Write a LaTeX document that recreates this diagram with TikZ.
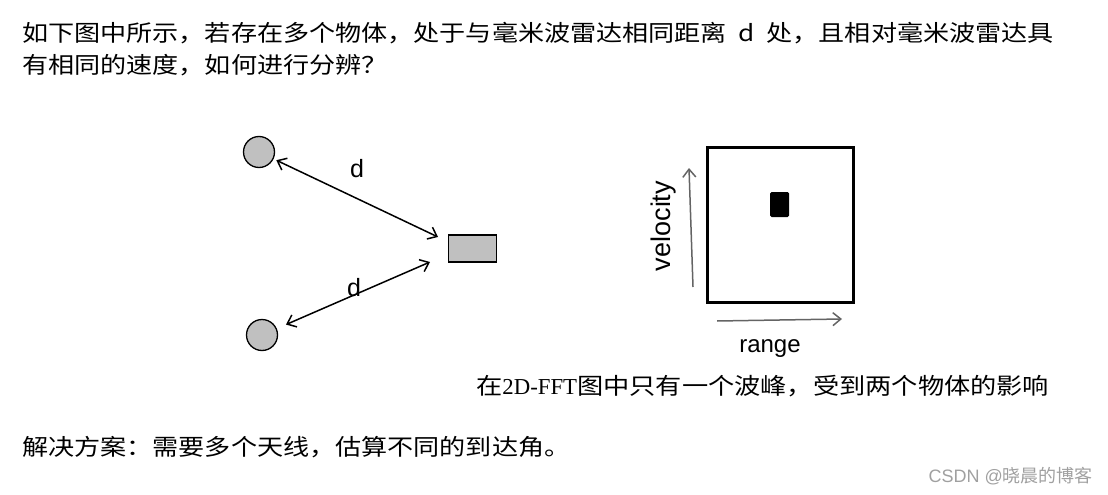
\documentclass[tikz,border=0pt]{standalone}
\usepackage{fontspec}
\setmainfont{Liberation Serif}
\newfontfamily\cjk[FakeStretch=1.15]{Noto Sans CJK SC}
\newfontfamily\cjkplain{Noto Sans CJK SC}
\newfontfamily\arialfont{Liberation Sans}
\definecolor{objgray}{RGB}{192,192,192}
\definecolor{axisgray}{RGB}{100,100,100}
\definecolor{markgray}{RGB}{160,160,160}
\usetikzlibrary{arrows.meta,positioning}

\begin{document}
\begin{tikzpicture}[x=1pt,y=-1pt,
          every node/.style={inner sep=0pt},
          textline/.style={anchor=west,font=\fontsize{22.7}{28}\selectfont\cjk},
          object/.style={circle,draw,fill=objgray,line width=1.3pt,minimum size=31pt},
          radar/.style={rectangle,draw,fill=objgray,line width=1.3pt,
                        minimum width=48pt,minimum height=27pt},
          dist/.style={{Straight Barb[length=8pt,width=13pt]}-{Straight Barb[length=8pt,width=13pt]},
                       line width=1.5pt},
          axis/.style={-{Straight Barb[length=8pt,width=13pt]},draw=axisgray,line width=1.5pt},
          lbl/.style={font=\fontsize{24}{24}\selectfont\arialfont}]
  \useasboundingbox (0,0) rectangle (1108,495);
  % question
  \node[textline] (q1) at (22,33)
    {如下图中所示，若存在多个物体，处于与毫米波雷达相同距离\ \ d\ \ 处，且相对毫米波雷达具};
  \node[textline] (q2) at (22,65) {有相同的速度，如何进行分辨？};
  % objects and radar
  \node[object] (obj1) at (259,152) {};
  \node[object] (obj2) at (262,335) {};
  \node[radar] (radar) at (472.5,248.5) {};
  \coordinate (rin1) at (438,237);
  \coordinate (rin2) at (430,262);
  \draw[dist,shorten <=3pt] (obj1) -- (rin1);
  \draw[dist,shorten <=10pt] (obj2) -- (rin2);
  \node[lbl,font=\fontsize{25}{25}\selectfont\arialfont] (d1) at (357,169) {d};
  \node[lbl,font=\fontsize{25}{25}\selectfont\arialfont] (d2) at (354,288) {d};
  % 2D-FFT map
  \node[draw,line width=3pt,minimum width=146pt,minimum height=155pt] (map) at (780,224.5) {};
  \node[fill=black,rounded corners=1.5pt,minimum width=19pt,minimum height=25pt]
    (peak) at (779.5,204.5) {};
  \coordinate (v0) at (693,287);
  \coordinate (v1) at (689,168);
  \coordinate (r0) at (717,321);
  \coordinate (r1) at (842,319);
  \draw[axis] (v0) -- (v1);
  \draw[axis] (r0) -- (r1);
  \node[lbl,font=\fontsize{27}{27}\selectfont\arialfont,rotate=90] (vlab) at (664,226) {velocity};
  \node[lbl] (rlab) at (770,349) {range};
  % caption and answer
  \node[anchor=west,font=\fontsize{22.8}{28}\selectfont] (cap) at (476,386)
    {{\cjk 在}2D-FFT{\cjk 图中只有一个波峰，受到两个物体的影响}};
  \node[textline] (sol) at (22,447) {解决方案：需要多个天线，估算不同的到达角。};
  \node[anchor=east,font=\fontsize{18}{18}\selectfont,text=markgray] (mark) at (1093,476)
    {{\arialfont CSDN @}{\cjkplain 晓晨的博客}};
\end{tikzpicture}
\end{document}
